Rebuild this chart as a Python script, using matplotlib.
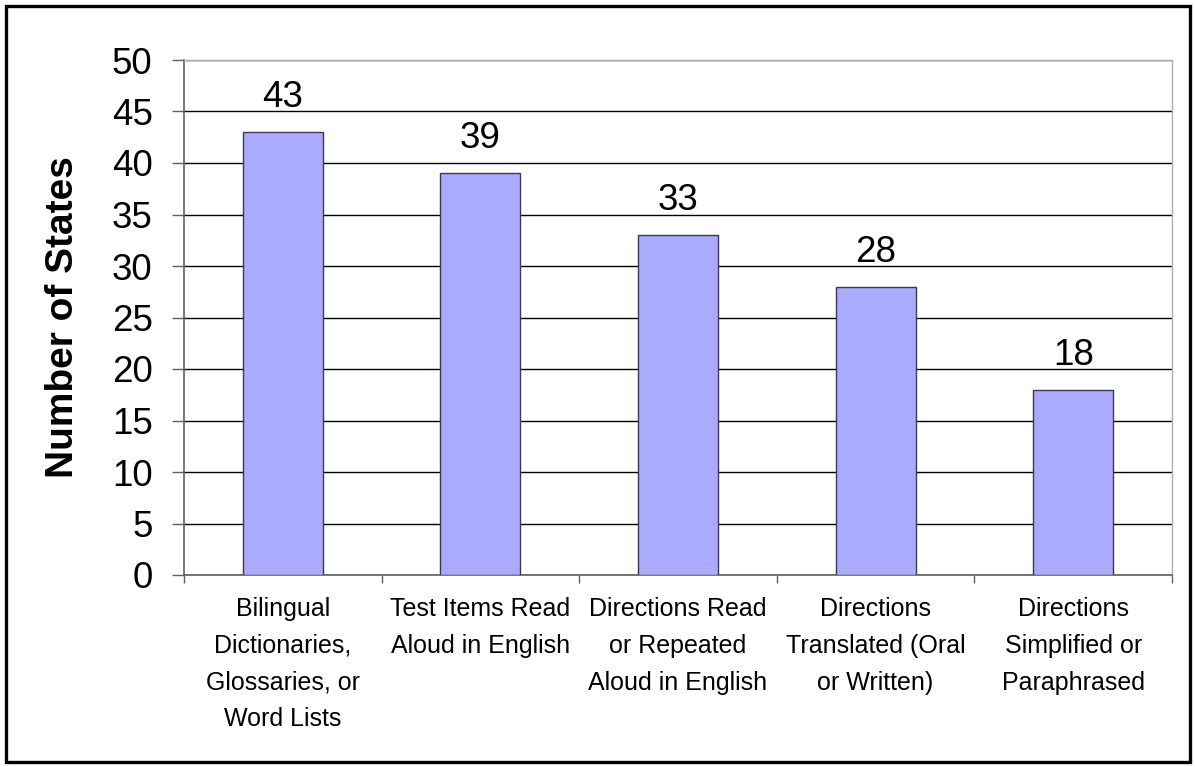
import numpy as np
import matplotlib
matplotlib.use('Agg')
import matplotlib.pyplot as plt
from matplotlib.patches import Rectangle

plt.rcParams['font.family'] = ['Liberation Sans', 'DejaVu Sans']

# Accommodations offered to ELL students, counted by state
categories = [
    'Bilingual\nDictionaries,\nGlossaries, or\nWord Lists',
    'Test Items Read\nAloud in English',
    'Directions Read\nor Repeated\nAloud in English',
    'Directions\nTranslated (Oral\nor Written)',
    'Directions\nSimplified or\nParaphrased',
]
n_states = [43, 39, 33, 28, 18]
y_ticks = [0, 5, 10, 15, 20, 25, 30, 35, 40, 45, 50]

fig = plt.figure(figsize=(11.95, 7.67), dpi=100)
ax = fig.add_axes([184 / 1195, 1 - 575 / 767, (1172 - 184) / 1195, (575 - 60) / 767])

x = np.arange(len(categories))
ax.bar(x, n_states, width=0.405, color='#AAAAFF', edgecolor='#3a3a4a',
       linewidth=1.0, zorder=3)

for xi, v in zip(x, n_states):
    ax.annotate(str(v), (xi, v), xytext=(0, 18), textcoords='offset points',
                ha='center', va='baseline', fontsize=26.5, zorder=4)

ax.set_xlim(-0.5, len(categories) - 0.5)
ax.set_ylim(0, 50)
ax.set_yticks(y_ticks)
ax.tick_params(axis='y', labelsize=26.5, length=8.6, width=1, color='#606060', pad=14)
ax.grid(axis='y', color='black', linewidth=1, zorder=0)

# boundary ticks between categories, labels at the centres
ax.set_xticks(np.arange(len(categories) + 1) - 0.5)
ax.set_xticklabels([])
ax.set_xticks(x, minor=True)
ax.set_xticklabels(categories, minor=True, fontsize=18, linespacing=1.67)
ax.tick_params(axis='x', which='major', length=6, width=1, color='#606060', direction='out')
ax.tick_params(axis='x', which='minor', length=0, pad=16)

for side in ('left', 'bottom'):
    ax.spines[side].set_color('#606060')
    ax.spines[side].set_linewidth(1.2)
for side in ('top', 'right'):
    ax.spines[side].set_color('#b0b0b0')
    ax.spines[side].set_linewidth(1)

ax.set_ylabel('Number of States', fontsize=28, fontweight='bold')
ax.yaxis.set_label_coords(-0.104, 0.5)

# chart frame
fig.patches.append(Rectangle((6 / 1195, 1 - 762 / 767), 1184 / 1195, 756 / 767,
                             transform=fig.transFigure, fill=False,
                             edgecolor='black', linewidth=2.4))

fig.savefig('out.png', dpi=100)
